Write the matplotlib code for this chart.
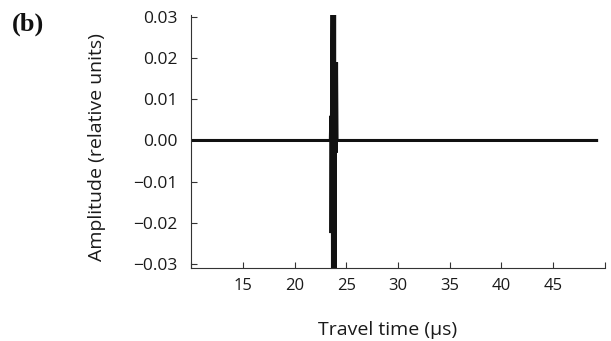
import matplotlib
matplotlib.use("Agg")
import matplotlib.pyplot as plt

# Trace (time in µs, amplitude in relative units)
times = [10.0, 23.45, 23.50, 23.52, 23.56, 23.62, 23.66, 23.70, 23.74, 23.78,
         23.82, 23.86, 23.90, 23.94, 24.00, 24.05, 24.10, 49.2]
amps = [0.0, 0.0, 0.006, -0.0225, 0.005, 0.031, -0.031, 0.031, -0.031, 0.031,
        -0.031, 0.031, -0.031, 0.019, -0.003, 0.019, 0.0, 0.0]

x_ticks = [10, 15, 20, 25, 30, 35, 40, 45, 50]
x_ticklabels = ["", "15", "20", "25", "30", "35", "40", "45", ""]
y_ticks = [-0.03, -0.02, -0.01, 0.0, 0.01, 0.02, 0.03]
y_ticklabels = ["\u22120.03", "\u22120.02", "\u22120.01", "0.00", "0.01", "0.02", "0.03"]

plt.rcParams['font.family'] = ['Open Sans', 'DejaVu Sans']

fig = plt.figure(figsize=(6.11, 3.41), dpi=100)
ax = fig.add_axes([0.313, 0.214, 0.677, 0.742])

ax.plot(times, amps, color='#111111', linewidth=2.2, solid_joinstyle='miter')

ax.set_xlim(10, 50)
ax.set_ylim(-0.031, 0.0305)
ax.set_xticks(x_ticks)
ax.set_xticklabels(x_ticklabels)
ax.set_yticks(y_ticks)
ax.set_yticklabels(y_ticklabels)

for side in ['top', 'right']:
    ax.spines[side].set_visible(False)
for side in ['left', 'bottom']:
    ax.spines[side].set_color('#333333')
    ax.spines[side].set_linewidth(0.8)

ax.tick_params(direction='in', length=4, width=0.8, color='#333333',
               labelcolor='#1a1a1a')
ax.tick_params(axis='y', pad=10, labelsize=12.5)
ax.tick_params(axis='x', pad=7, labelsize=12)

ax.set_xlabel('Travel time (\u00b5s)', fontsize=14, color='#1a1a1a')
ax.xaxis.set_label_coords(0.475, -0.21)
ax.set_ylabel('Amplitude (relative units)', fontsize=14, color='#1a1a1a')
ax.yaxis.set_label_coords(-0.205, 0.48)

fig.text(0.02, 0.93, '(b)', fontsize=19, fontweight='bold',
         family='Liberation Serif', color='#111111', va='center')

fig.savefig('out.png', dpi=100)
